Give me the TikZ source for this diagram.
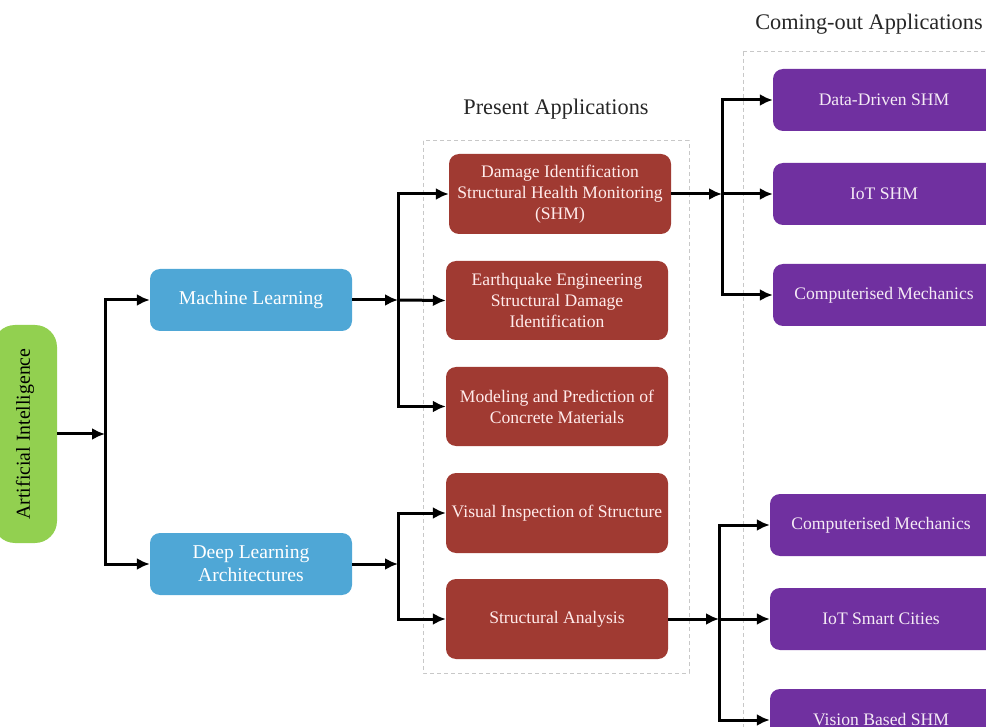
\documentclass[tikz,border=0pt]{standalone}
\usepackage{fontspec}
\setmainfont{Liberation Serif}
\usetikzlibrary{arrows.meta}

\definecolor{aigreen}{HTML}{92D050}
\definecolor{mlblue}{HTML}{4FA7D6}
\definecolor{appred}{HTML}{A03A32}
\definecolor{futpurple}{HTML}{7030A0}
\definecolor{framegray}{HTML}{C8C8C8}

\tikzset{
  box/.style={rounded corners=10pt, inner sep=2pt, align=center, text=white},
  aibox/.style={box, fill=aigreen, text=black, rounded corners=22pt,
                minimum width=218pt, minimum height=64pt,
                font=\fontsize{19.8}{23}\selectfont},
  mlbox/.style={box, fill=mlblue, minimum width=202pt, minimum height=62pt,
                font=\fontsize{19.6}{23}\selectfont},
  redbox/.style={box, fill=appred, text=white!92!red, minimum width=222pt, minimum height=80pt,
                 font=\fontsize{17.6}{21}\selectfont},
  purplebox/.style={box, fill=futpurple, text=white!92!violet, minimum width=236pt, minimum height=62pt,
                    font=\fontsize{17.6}{21}\selectfont},
  grouptitle/.style={font=\fontsize{22.3}{26}\selectfont, text=black!85},
  groupframe/.style={draw=framegray, line width=1pt, dash pattern=on 4pt off 3pt},
  link/.style={line width=3pt, -{Latex[length=13pt,width=12pt]}},
}

\begin{document}
\begin{tikzpicture}[x=1pt, y=-1pt]
  \useasboundingbox (0,0) rectangle (986,727);
  \clip (0,0) rectangle (986,727);

  % group frames and their titles
  \draw[groupframe] (423,141) rectangle (689,673);
  \draw[groupframe] (743,52) rectangle (1010,760);
  \node[grouptitle] (ptitle) at (556,109) {Present Applications};
  \node[grouptitle] (ctitle) at (869,24) {Coming-out Applications};

  % root
  \node[aibox, rotate=90] (ai) at (25,434) {Artificial Intelligence};

  % second level
  \node[mlbox] (ml) at (251,300) {Machine Learning};
  \node[mlbox] (dl) at (251,564) {Deep Learning\\Architectures};

  % present applications
  \node[redbox] (dmg) at (560,194) {Damage Identification\\Structural Health Monitoring\\(SHM)};
  \node[redbox, minimum height=79pt] (eq) at (557,300.5) {Earthquake Engineering\\Structural Damage\\Identification};
  \node[redbox, minimum height=79pt] (mod) at (557,406.5) {Modeling and Prediction of\\Concrete Materials};
  \node[redbox] (vis) at (557,513) {Visual Inspection of Structure};
  \node[redbox] (sa) at (557,619) {Structural Analysis};

  % coming-out applications
  \node[purplebox] (dd) at (891,100) {\hspace*{-14pt}Data-Driven SHM};
  \node[purplebox] (iot) at (891,194) {\hspace*{-14pt}IoT SHM};
  \node[purplebox] (cm1) at (891,295) {\hspace*{-14pt}Computerised Mechanics};
  \node[purplebox] (cm2) at (888,525) {\hspace*{-14pt}Computerised Mechanics};
  \node[purplebox] (isc) at (888,619) {\hspace*{-14pt}IoT Smart Cities};
  \node[purplebox] (vb) at (888,720) {\hspace*{-14pt}Vision Based SHM};

  % branching points
  \coordinate (j1) at (105,434);
  \coordinate (j2) at (398,300);
  \coordinate (j3) at (398,564);
  \coordinate (j4) at (722,194);
  \coordinate (j5) at (719,619);

  % root -> second level
  \draw[link] (ai.south) -- (j1);
  \draw[link] (j1) |- (ml.west);
  \draw[link] (j1) |- (dl.west);

  % machine learning -> present applications
  \draw[link] (ml.east) -- (j2);
  \draw[link] (j2) |- (dmg.west);
  \draw[link] (j2) -- (eq.west);
  \draw[link] (j2) |- (mod.west);

  % deep learning -> present applications
  \draw[link] (dl.east) -- (j3);
  \draw[link] (j3) |- (vis.west);
  \draw[link] (j3) |- (sa.west);

  % SHM -> coming-out applications
  \draw[link] (dmg.east) -- (j4);
  \draw[link] (j4) |- (dd.west);
  \draw[link] (j4) -- (iot.west);
  \draw[link] (j4) |- (cm1.west);

  % structural analysis -> coming-out applications
  \draw[link] (sa.east) -- (j5);
  \draw[link] (j5) |- (cm2.west);
  \draw[link] (j5) -- (isc.west);
  \draw[link] (j5) |- (vb.west);
\end{tikzpicture}
\end{document}
